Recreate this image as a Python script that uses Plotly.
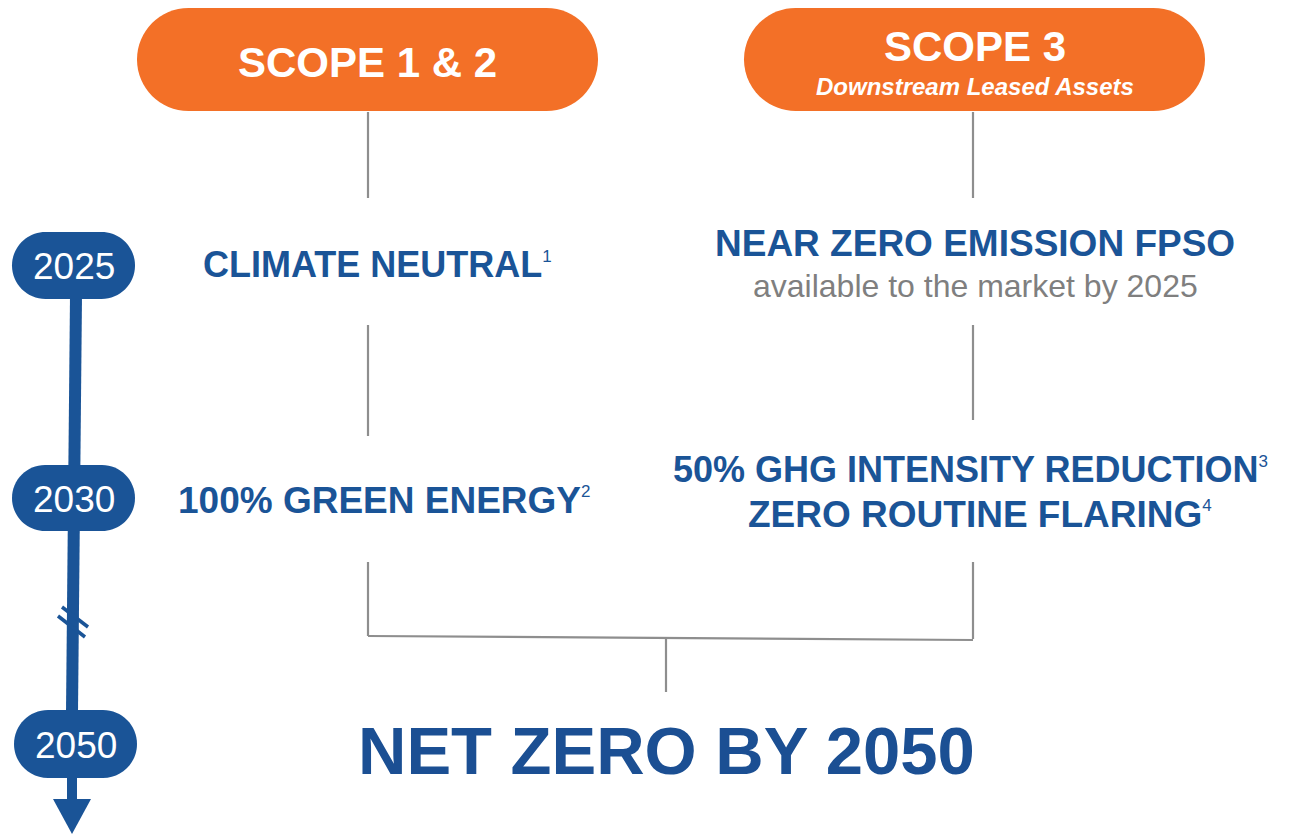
import plotly.graph_objects as go

# ---- content ----
years = ["2025", "2030", "2050"]
scopes = ["SCOPE 1 & 2", "SCOPE 3"]
scope3_subtitle = "Downstream Leased Assets"
scope12_goals = ["CLIMATE NEUTRAL", "100% GREEN ENERGY"]
scope12_notes = ["1", "2"]
scope3_goal_2025 = "NEAR ZERO EMISSION FPSO"
scope3_note_2025 = "available to the market by 2025"
scope3_goals_2030 = ["50% GHG INTENSITY REDUCTION", "ZERO ROUTINE FLARING"]
scope3_notes_2030 = ["3", "4"]
final_goal = "NET ZERO BY 2050"

# ---- styles ----
W, H = 1294, 834
ORANGE = "#F37027"
BLUE = "#1A5497"
DARK_BLUE = "#1B4F93"
GRAY_LINE = "#8E8E8E"
GRAY_TEXT = "#7F7F7F"
FONT = "Arial, Liberation Sans, sans-serif"

fig = go.Figure()
shapes = []
annotations = []


def pill_path(x0, x1, y0, y1):
    r = (y1 - y0) / 2.0
    k = 0.5523 * r
    cy = (y0 + y1) / 2.0
    xl, xr = x0 + r, x1 - r
    return (
        f"M {xl},{y0} L {xr},{y0} "
        f"C {xr + k},{y0} {x1},{cy - k} {x1},{cy} "
        f"C {x1},{cy + k} {xr + k},{y1} {xr},{y1} "
        f"L {xl},{y1} "
        f"C {xl - k},{y1} {x0},{cy + k} {x0},{cy} "
        f"C {x0},{cy - k} {xl - k},{y0} {xl},{y0} Z"
    )


def pill(x0, x1, y0, y1, color):
    shapes.append(dict(type="path", path=pill_path(x0, x1, y0, y1),
                       xref="x", yref="y", fillcolor=color,
                       line=dict(width=0), layer="above"))


def line(x0, y0, x1, y1, color, width, layer="below"):
    shapes.append(dict(type="line", x0=x0, y0=y0, x1=x1, y1=y1,
                       xref="x", yref="y", line=dict(color=color, width=width),
                       layer=layer))


def text(x, y, s, size, color, bold=True, italic=False, anchor="center"):
    if bold:
        s = f"<b>{s}</b>"
    if italic:
        s = f"<i>{s}</i>"
    annotations.append(dict(x=x, y=y, xref="x", yref="y", text=s,
                            showarrow=False, xanchor=anchor, yanchor="middle",
                            font=dict(family=FONT, size=size, color=color)))


def goal(x, y, label, note, size=37):
    s = (f"<b>{label}</b><sup><span style='font-size:17px'>{note}</span></sup>")
    annotations.append(dict(x=x, y=y, xref="x", yref="y", text=s,
                            showarrow=False, xanchor="left", yanchor="middle",
                            font=dict(family=FONT, size=size, color=BLUE)))


# ---- grey connector lines ----
for (x0, y0, x1, y1) in [
    (368, 112, 368, 198), (973, 112, 973, 198),
    (368, 325, 368, 436), (973, 325, 973, 420),
    (368, 562, 368, 636), (973, 562, 973, 639),
    (368, 636, 973, 640), (666, 638, 666, 692),
]:
    line(x0, y0, x1, y1, GRAY_LINE, 2.2)

# ---- timeline ----
line(76, 296, 72, 712, BLUE, 12)
line(72, 776, 72, 802, BLUE, 10)
shapes.append(dict(type="path", path="M 53,799 L 91,799 L 72,834 Z",
                   xref="x", yref="y", fillcolor=BLUE, line=dict(width=0)))
# break marks
line(62, 607, 88, 627, BLUE, 3.5, layer="above")
line(58, 616, 85, 637, BLUE, 3.5, layer="above")

year_boxes = [(12, 135, 232, 299), (12, 135, 465, 531), (14, 137, 710, 778)]
for yr, (x0, x1, y0, y1) in zip(years, year_boxes):
    pill(x0, x1, y0, y1, BLUE)
    text((x0 + x1) / 2, (y0 + y1) / 2 + 1, yr, 37, "white", bold=False)

# ---- scope headers ----
pill(137, 598, 8, 111, ORANGE)
pill(744, 1205, 8, 111, ORANGE)
text(367, 62, scopes[0], 42, "white")
text(975, 46, scopes[1], 42, "white")
text(975, 86, scope3_subtitle, 24, "white", italic=True)

# ---- goals ----
goal(201, 264, scope12_goals[0], scope12_notes[0], 36)
goal(176, 500, scope12_goals[1], scope12_notes[1], 37)
text(975, 243, scope3_goal_2025, 37, BLUE)
text(975, 286, scope3_note_2025, 32, GRAY_TEXT, bold=False)
goal(671, 469, scope3_goals_2030[0], scope3_notes_2030[0], 36)
goal(746, 514, scope3_goals_2030[1], scope3_notes_2030[1], 37)
text(666, 750, final_goal, 67, DARK_BLUE)

fig.update_layout(
    width=W, height=H, autosize=False,
    margin=dict(l=0, r=0, t=0, b=0),
    paper_bgcolor="white", plot_bgcolor="white",
    xaxis=dict(range=[0, W], visible=False, fixedrange=True),
    yaxis=dict(range=[H, 0], visible=False, fixedrange=True),
    shapes=shapes, annotations=annotations, showlegend=False,
)
fig.write_html("out.html",
               config={"displayModeBar": False, "staticPlot": True},
               post_script="document.body.style.margin='0';"
                           "document.body.style.overflow='hidden';")
